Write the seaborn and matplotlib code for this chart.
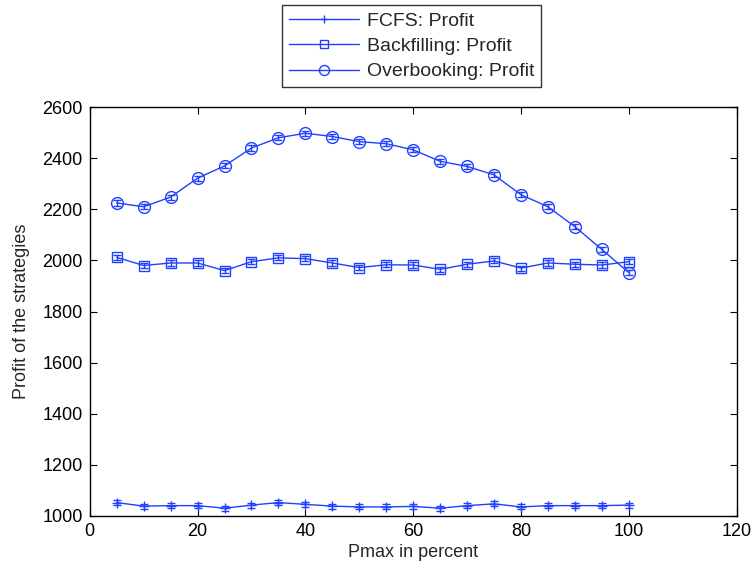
import matplotlib
matplotlib.use("Agg")
import matplotlib.pyplot as plt
import seaborn as sns
import pandas as pd
import numpy as np

sns.set_theme(style="white")
plt.rcParams['font.family'] = ['Liberation Sans', 'DejaVu Sans']

pmax = [5, 10, 15, 20, 25, 30, 35, 40, 45, 50, 55, 60, 65, 70, 75, 80, 85, 90, 95, 100]
fcfs = [1052, 1038, 1040, 1040, 1030, 1042, 1052, 1045, 1038, 1035, 1035, 1037, 1030, 1040, 1047, 1035, 1040, 1040, 1040, 1042]
backfilling = [2012, 1980, 1990, 1990, 1960, 1995, 2010, 2007, 1990, 1972, 1983, 1982, 1965, 1985, 1998, 1970, 1990, 1985, 1982, 1995]
overbooking = [2225, 2210, 2248, 2322, 2370, 2440, 2480, 2498, 2485, 2465, 2457, 2433, 2388, 2368, 2335, 2257, 2210, 2132, 2043, 1952]
err = [10] * len(pmax)
labels = ["FCFS: Profit", "Backfilling: Profit", "Overbooking: Profit"]
xticks = [0, 20, 40, 60, 80, 100, 120]
yticks = [1000, 1200, 1400, 1600, 1800, 2000, 2200, 2400, 2600]

color = "#2040ff"
fig = plt.figure(figsize=(7.54, 5.70), dpi=100)
ax = fig.add_axes([0.119, 0.095, 0.858, 0.717])

series = [(fcfs, "+", labels[0], 7), (backfilling, "s", labels[1], 7.5), (overbooking, "o", labels[2], 8.5)]
for vals, mk, lab, ms in series:
    df = pd.DataFrame({"x": pmax, "y": vals})
    sns.lineplot(data=df, x="x", y="y", ax=ax, color=color, lw=1.0, marker=mk,
                 markersize=ms, markerfacecolor="none",
                 markeredgecolor=color, markeredgewidth=1.0, label=lab)
    ax.errorbar(pmax, vals, yerr=err, fmt="none", ecolor=color, elinewidth=1.0,
                capsize=3, capthick=1.0)

ax.set_xlim(0, 120)
ax.set_ylim(1000, 2600)
ax.set_xticks(xticks)
ax.set_yticks(yticks)
ax.set_xlabel("Pmax in percent", fontsize=13, labelpad=3)
ax.set_ylabel("Profit of the strategies", fontsize=13, labelpad=9)
ax.tick_params(direction="in", length=5, width=0.8, top=True, right=True,
               labelsize=13, colors="black", bottom=True, left=True, pad=5)
for s in ax.spines.values():
    s.set_color("black")
    s.set_linewidth(1.0)

ax.legend(loc="upper center", bbox_to_anchor=(0.546, 0.991), bbox_transform=fig.transFigure,
          fontsize=14, frameon=True, fancybox=False, edgecolor="black",
          handlelength=3.6, borderpad=0.35, labelspacing=0.4, handletextpad=0.4,
          borderaxespad=0, markerscale=0.85)
leg = ax.get_legend()
leg.get_frame().set_linewidth(1.0)

fig.savefig("out.png", dpi=100)
